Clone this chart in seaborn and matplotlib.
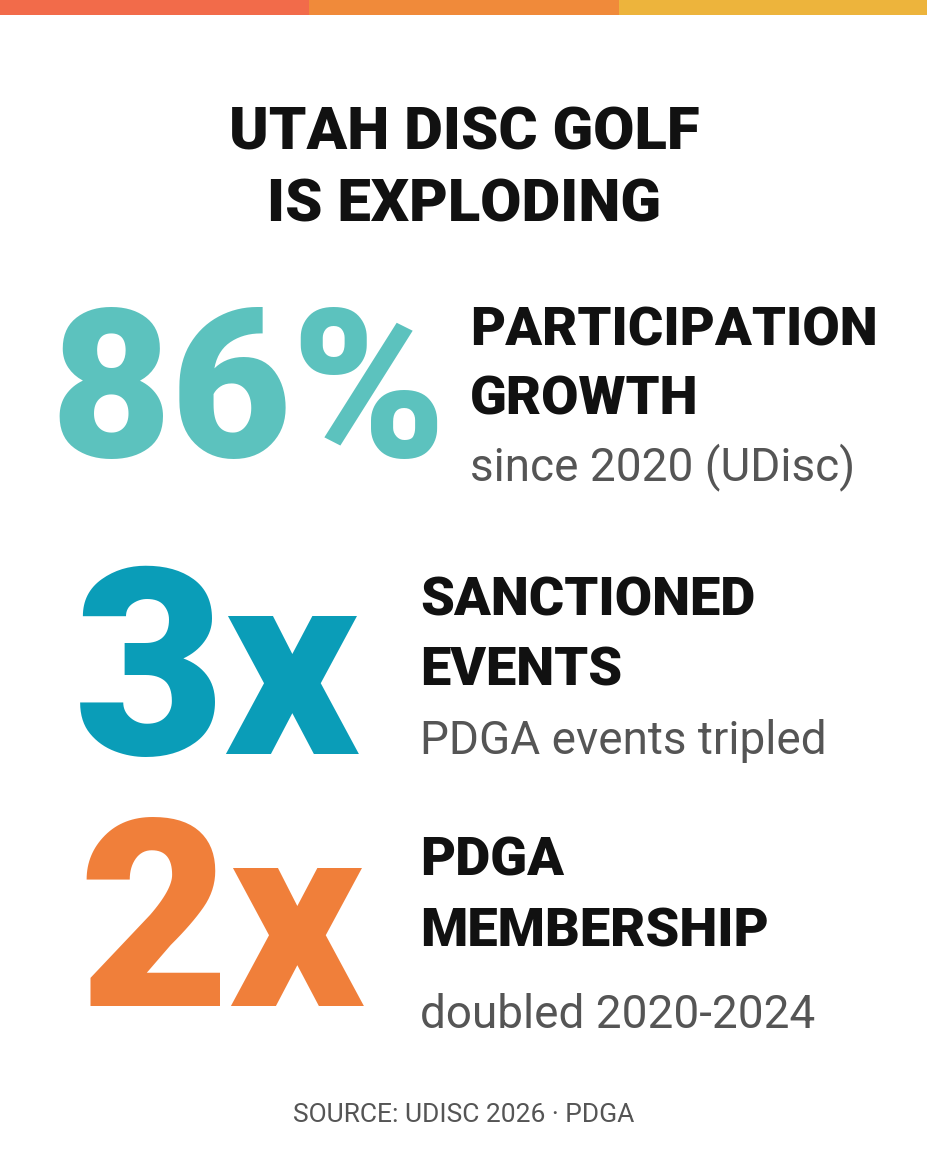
import matplotlib.pyplot as plt
import seaborn as sns
import pandas as pd

# top stripe colours
stripe = ["#F26B4A", "#F08A3A", "#EDB43C"]

title_lines = ["UTAH DISC GOLF", "IS EXPLODING"]

# stat blocks
big_numbers = ["86%", "3x", "2x"]
big_colors = ["#5CC2BE", "#0A9DB8", "#F07F3A"]
headings = [["PARTICIPATION", "GROWTH"], ["SANCTIONED", "EVENTS"], ["PDGA", "MEMBERSHIP"]]
subtexts = ["since 2020 (UDisc)", "PDGA events tripled", "doubled 2020-2024"]
source = "SOURCE: UDISC 2026 \u00b7 PDGA"

sns.set_theme(style="white")
plt.rcParams["font.family"] = ["Roboto", "DejaVu Sans"]

W, H = 928, 1152
fig = plt.figure(figsize=(W / 100, H / 100), dpi=100)
fig.patch.set_facecolor("white")


def px(x, y):
    return x / W, 1 - y / H


# stripe across the top
ax = fig.add_axes([0, 1 - 15 / H, 1, 15 / H])
df = pd.DataFrame({"seg": ["a", "b", "c"], "v": [1, 1, 1]})
sns.barplot(data=df, x="seg", y="v", hue="seg", palette=stripe, width=1.0,
            saturation=1, linewidth=0, legend=False, ax=ax)
ax.set_xlim(-0.5, 2.5)
ax.set_ylim(0, 1)
ax.axis("off")

# title
for line, y in zip(title_lines, [133, 205]):
    fig.text(*px(464, y), line, ha="center", va="center", fontsize=43,
             fontweight="black", color="#111111")

# stat rows
big_x = [50, 74, 78]
big_y = [400, 682, 934]
big_sizes = [150, 188, 188]
head_x = [470, 420, 420]
head_y = [[331, 400], [601, 671], [861, 932]]
sub_y = [467, 741, 1015]
for i in range(3):
    fig.text(*px(big_x[i], big_y[i]), big_numbers[i], ha="left", va="center",
             fontsize=big_sizes[i], fontweight="black", color=big_colors[i])
    for line, y in zip(headings[i], head_y[i]):
        fig.text(*px(head_x[i], y), line, ha="left", va="center",
                 fontsize=39, fontweight="black", color="#111111")
    fig.text(*px(head_x[i], sub_y[i]), subtexts[i], ha="left", va="center",
             fontsize=33, color="#555555")

fig.text(*px(464, 1115), source, ha="center", va="center", fontsize=19,
         color="#555555")

fig.savefig("out.png", dpi=100, facecolor="white")
